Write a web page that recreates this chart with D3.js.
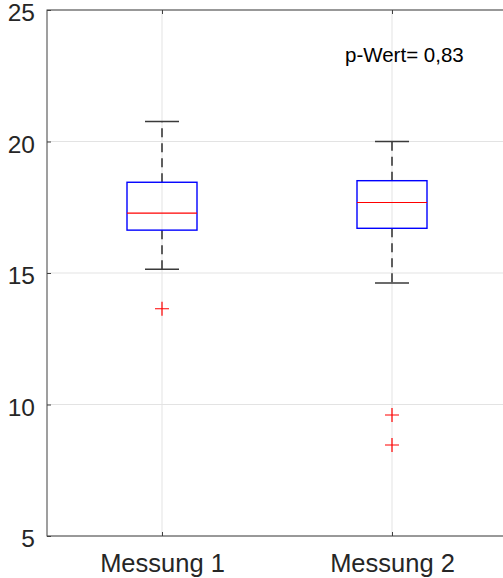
<!DOCTYPE html>
<html>
<head>
<meta charset="utf-8">
<script src="https://cdn.jsdelivr.net/npm/d3@7"></script>
<style>
  html, body { margin: 0; padding: 0; background: #fff; overflow: hidden; }
  svg { display: block; font-family: "Liberation Sans", Arial, sans-serif; }
</style>
</head>
<body>
<script>
// Box plot summary per measurement
const categories = ["Messung 1", "Messung 2"];
const whiskerHigh = [20.76, 20.0];
const upperQuartile = [18.45, 18.51];
const medians = [17.28, 17.68];
const lowerQuartile = [16.63, 16.70];
const whiskerLow = [15.14, 14.62];
const outliers = [[13.64], [9.60, 8.46]];
const yTicks = [5, 10, 15, 20, 25];
const annotation = "p-Wert= 0,83";

const width = 503, height = 578;
const margin = { left: 47, right: -4, top: 10, bottom: 42 };
const plotW = width - margin.left - margin.right;
const plotH = height - margin.top - margin.bottom;

const svg = d3.select("body").append("svg")
  .attr("width", width).attr("height", height);

const g = svg.append("g").attr("transform", `translate(${margin.left},${margin.top})`);

const x = d3.scaleLinear().domain([0.5, categories.length + 0.5]).range([0, plotW]);
const y = d3.scaleLinear().domain([5, 25]).range([plotH, 0]);

const axisColor = "#404040";
const gridColor = "#e3e3e3";

// grid lines
g.append("g").selectAll("line.hg").data(yTicks).join("line")
  .attr("x1", 0).attr("x2", plotW)
  .attr("y1", d => y(d)).attr("y2", d => y(d))
  .attr("stroke", gridColor).attr("stroke-width", 1);
g.append("g").selectAll("line.vg").data(categories).join("line")
  .attr("x1", (d, i) => x(i + 1)).attr("x2", (d, i) => x(i + 1))
  .attr("y1", 0).attr("y2", plotH)
  .attr("stroke", gridColor).attr("stroke-width", 1);

// axes
const yAxis = d3.axisLeft(y).tickValues(yTicks).tickSize(-4).tickPadding(12).tickFormat(d3.format("d"));
const yAxisR = d3.axisRight(y).tickValues(yTicks).tickSize(-4).tickFormat("");
const xAxis = d3.axisBottom(x).tickValues(categories.map((d, i) => i + 1))
  .tickSize(-4).tickPadding(18).tickFormat((d) => categories[d - 1]);
const xAxisT = d3.axisTop(x).tickValues(categories.map((d, i) => i + 1)).tickSize(-4).tickFormat("");

function styleAxis(sel, fs) {
  sel.select(".domain").attr("stroke", axisColor).attr("stroke-width", 1);
  sel.selectAll(".tick line").attr("stroke", axisColor).attr("stroke-width", 1);
  sel.selectAll(".tick text").attr("fill", "#262626").style("font-size", fs + "px")
    .style("font-family", '"Liberation Sans", Arial, sans-serif');
}

g.append("g").call(yAxis).call(s => styleAxis(s, 24.5))
  .selectAll(".tick text").attr("dy", "0.44em");
g.append("g").attr("transform", `translate(${plotW},0)`).call(yAxisR).call(s => styleAxis(s, 24.5));
g.append("g").attr("transform", `translate(0,${plotH})`).call(xAxis).call(s => styleAxis(s, 25.5));
g.append("g").call(xAxisT).call(s => styleAxis(s, 24.5));
g.selectAll(".domain").attr("d", null);
g.append("rect").attr("x", 0).attr("y", 0).attr("width", plotW).attr("height", plotH)
  .attr("fill", "none").attr("stroke", axisColor).attr("stroke-width", 1);

// boxes
const boxW = 70, capW = 34, cross = 7;
categories.forEach((c, i) => {
  const cx = x(i + 1);
  const bg = g.append("g");
  // whiskers
  bg.append("line").attr("x1", cx).attr("x2", cx)
    .attr("y1", y(upperQuartile[i])).attr("y2", y(whiskerHigh[i]))
    .attr("stroke", "#3a3a3a").attr("stroke-width", 1.6).attr("stroke-dasharray", "9,6");
  bg.append("line").attr("x1", cx).attr("x2", cx)
    .attr("y1", y(lowerQuartile[i])).attr("y2", y(whiskerLow[i]))
    .attr("stroke", "#3a3a3a").attr("stroke-width", 1.6).attr("stroke-dasharray", "9,6");
  [whiskerHigh[i], whiskerLow[i]].forEach(v => {
    bg.append("line").attr("x1", cx - capW / 2).attr("x2", cx + capW / 2)
      .attr("y1", y(v)).attr("y2", y(v))
      .attr("stroke", "#3a3a3a").attr("stroke-width", 1.6);
  });
  // box
  bg.append("rect").attr("x", cx - boxW / 2).attr("width", boxW)
    .attr("y", y(upperQuartile[i])).attr("height", y(lowerQuartile[i]) - y(upperQuartile[i]))
    .attr("fill", "none").attr("stroke", "#0000ff").attr("stroke-width", 1.4);
  // median
  bg.append("line").attr("x1", cx - boxW / 2).attr("x2", cx + boxW / 2)
    .attr("y1", y(medians[i])).attr("y2", y(medians[i]))
    .attr("stroke", "#ff0000").attr("stroke-width", 1.2);
  // outliers
  outliers[i].forEach(v => {
    bg.append("path")
      .attr("d", `M${cx - cross},${y(v)}H${cx + cross}M${cx},${y(v) - cross}V${y(v) + cross}`)
      .attr("stroke", "#ff0000").attr("stroke-width", 1.2).attr("fill", "none");
  });
});

// annotation
svg.append("text").attr("x", 345).attr("y", 62)
  .style("font-size", "20.5px").attr("fill", "#000")
  .text(annotation);
</script>
</body>
</html>
